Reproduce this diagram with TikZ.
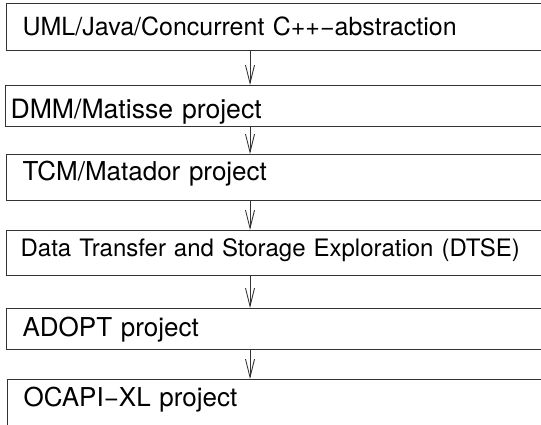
\documentclass[tikz,border=0pt]{standalone}
\usepackage{fontspec}
\setmainfont{TeX Gyre Heros}
\usetikzlibrary{arrows.meta,positioning}
\tikzset{
  kas/.style={draw=black!80,line width=1.2pt,anchor=north west,
    text width=528pt,align=left,inner ysep=0pt,inner xsep=16pt,
    font=\fontsize{26}{30}\selectfont},
  nyil/.style={draw=black!80,line width=0.9pt,-{Straight Barb[length=18pt,width=9pt]}},
}

\begin{document}
\begin{tikzpicture}[x=1pt,y=-1pt]
  \useasboundingbox (0,0) rectangle (541,424);
  \node[kas,text height=32pt,text depth=15pt,font=\fontsize{25}{30}\selectfont] (uml) at (6,3)
    {UML/Java/Concurrent C++−abstraction};
  \node[kas,text height=33pt,text depth=8pt,inner xsep=5pt,text width=550pt,
    font=\fontsize{26.6}{30}\selectfont] (dmm) at (5,85) {DMM/Matisse project};
  \node[kas,text height=26pt,text depth=20pt] (tcm) at (6,154) {TCM/Matador project};
  \node[kas,text height=26pt,text depth=19pt,inner xsep=14pt,text width=532pt,
    font=\fontsize{24}{28}\selectfont] (dtse) at (6,230)
    {Data Transfer and Storage Exploration (DTSE)};
  \node[kas,text height=28pt,text depth=13pt] (adopt) at (6,308) {ADOPT project};
  \node[kas,text height=27pt,text depth=40pt] (ocapi) at (7,379) {OCAPI−XL project};
  \coordinate (ax) at (250,0);
  \foreach \a/\b in {uml/dmm,dmm/tcm,tcm/dtse,dtse/adopt,adopt/ocapi}
    \draw[nyil] (\a.south -| ax) -- (\b.north -| ax);
\end{tikzpicture}
\end{document}
